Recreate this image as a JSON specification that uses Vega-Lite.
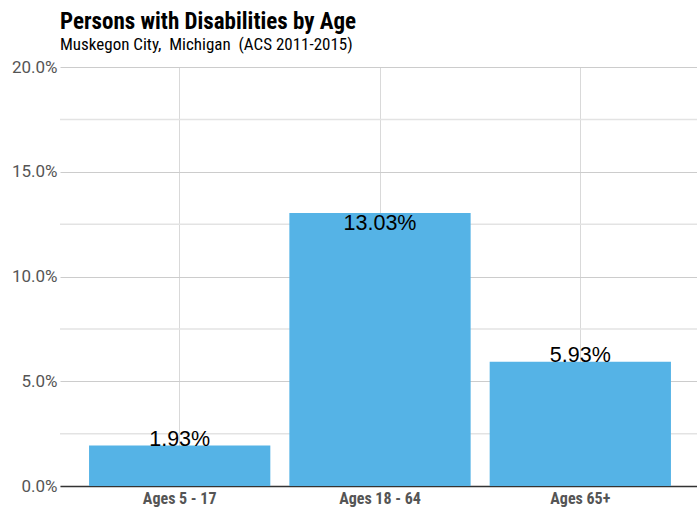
{
  "$schema": "https://vega.github.io/schema/vega-lite/v6.json",
  "width": 640,
  "height": 419,
  "autosize": "none",
  "padding": {"left": 60, "top": 67, "right": -3, "bottom": 24},
  "background": "white",
  "title": {
    "text": "Persons with Disabilities by Age",
    "subtitle": "Muskegon City,\u00a0 Michigan\u00a0 (ACS 2011-2015)",
    "anchor": "start",
    "frame": "group",
    "offset": 5,
    "font": "Liberation Sans Narrow, Roboto Condensed, Roboto, sans-serif",
    "fontSize": 23,
    "fontWeight": "bold",
    "color": "#000000",
    "subtitleFont": "Liberation Sans Narrow, Roboto Condensed, Roboto, sans-serif",
    "subtitleFontSize": 17,
    "subtitleColor": "#000000",
    "subtitlePadding": 3
  },
  "config": {
    "view": {"stroke": null},
    "axis": {"labelFont": "Liberation Sans Narrow, Roboto Condensed, Roboto, sans-serif"}
  },
  "data": {
    "values": [
      {"age": "Ages 5 - 17", "share": 0.0193},
      {"age": "Ages 18 - 64", "share": 0.1303},
      {"age": "Ages 65+", "share": 0.0593}
    ]
  },
  "encoding": {
    "x": {
      "field": "age",
      "type": "nominal",
      "sort": null,
      "scale": {"paddingInner": 0.095, "paddingOuter": 0.145},
      "axis": {
        "title": null,
        "labelAngle": 0,
        "labelFontSize": 16,
        "labelFontWeight": "bold",
        "labelColor": "#555555",
        "labelPadding": 4,
        "ticks": false,
        "domainColor": "#333333",
        "domainWidth": 1.5,
        "grid": true,
        "gridColor": "#d9d9d9",
        "gridWidth": 1,
        "zindex": 0
      }
    },
    "y": {
      "field": "share",
      "type": "quantitative",
      "scale": {"domain": [0, 0.2], "nice": false},
      "axis": {
        "title": null,
        "values": [0, 0.05, 0.1, 0.15, 0.2],
        "format": ".1%",
        "labelFont": "Roboto, sans-serif",
        "labelFontSize": 17,
        "labelColor": "#555555",
        "labelPadding": 3,
        "ticks": false,
        "domain": false,
        "grid": true,
        "gridColor": "#cccccc",
        "gridWidth": 1,
        "zindex": 0
      }
    }
  },
  "layer": [
    {
      "data": {"values": [{"share": 0.025}, {"share": 0.075}, {"share": 0.125}, {"share": 0.175}]},
      "mark": {"type": "rule", "color": "#e3e3e3", "strokeWidth": 1.5},
      "encoding": {"x": null}
    },
    {
      "mark": {"type": "bar", "color": "#55b3e6"}
    },
    {
      "transform": [{"filter": "datum.share >= 0.1"}],
      "mark": {"type": "text", "baseline": "top", "align": "center", "font": "Liberation Sans, Arial, sans-serif", "fontSize": 21.5, "color": "#000000"},
      "encoding": {
        "text": {"field": "share", "type": "quantitative", "format": ".2%"}
      }
    },
    {
      "transform": [{"filter": "datum.share < 0.1"}],
      "mark": {"type": "text", "baseline": "alphabetic", "align": "center", "dy": 0, "font": "Liberation Sans, Arial, sans-serif", "fontSize": 21.5, "color": "#000000"},
      "encoding": {
        "text": {"field": "share", "type": "quantitative", "format": ".2%"}
      }
    }
  ]
}
